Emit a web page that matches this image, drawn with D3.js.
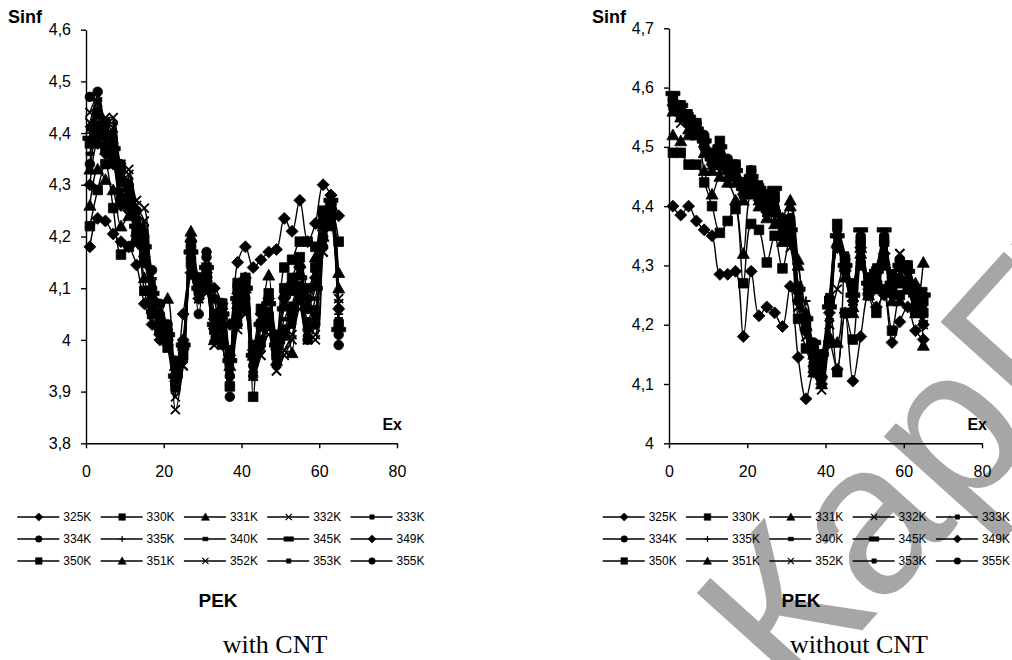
<!DOCTYPE html>
<html>
<head>
<meta charset="utf-8">
<script src="https://cdn.jsdelivr.net/npm/d3@7"></script>
<style>
  body { margin: 0; background: #fff; }
  svg { display: block; }
</style>
</head>
<body>
<svg id="chart" width="1012" height="660"></svg>
<script>
// Excitation step (Ex) shared by every series
const exValues = [1, 3, 5, 7, 9, 11, 13, 15, 17, 19, 21, 23, 25, 27, 29, 31, 33,
                  35, 37, 39, 41, 43, 45, 47, 49, 51, 53, 55, 57, 59, 61, 63, 65];

// Temperature series names and their marker kinds
const seriesNames = ["325K", "330K", "331K", "332K", "333K",
                     "334K", "335K", "340K", "345K", "349K",
                     "350K", "351K", "352K", "353K", "355K"];
const markerKinds = ["diamond", "square", "triangle", "cross", "smallSquare",
                     "circle", "plus", "dash", "wideDash", "diamond",
                     "square", "triangle", "cross", "smallSquare", "circle"];

// Sinf, PEK with CNT
const cnt325 = [4.18,4.235,4.23,4.205,4.19,4.18,4.145,4.07,4.03,4.0,3.99,3.93,4.05,4.13,4.08,4.1,4.1,4.07,4.03,4.15,4.18,4.14,4.155,4.17,4.175,4.235,4.21,4.27,4.19,4.225,4.30,4.28,4.24];
const cnt330 = [4.22,4.29,4.34,4.255,4.165,4.18,4.2,4.095,4.05,4.04,3.985,3.91,3.97,4.15,4.1,4.12,4.02,4.07,3.91,4.11,4.11,3.89,4.03,4.04,3.97,4.14,4.155,4.19,4.19,4.18,4.25,4.25,4.19];
const cnt331 = [4.26,4.33,4.31,4.29,4.22,4.24,4.2,4.12,4.06,4.05,4.08,3.95,4.0,4.21,4.12,4.1,4.0,4.05,3.95,4.07,4.1,3.97,4.04,4.125,3.96,4.09,3.975,4.15,4.06,4.16,4.2,4.26,4.13];
const cnt332 = [4.42,4.46,4.43,4.43,4.34,4.33,4.27,4.255,4.09,4.02,4.0,3.865,3.95,4.12,4.08,4.09,3.99,4.0,3.92,4.02,4.05,3.93,3.97,4.01,3.94,3.97,4.0,4.06,4.0,4.0,4.17,4.24,4.08];
const cnt333 = [4.38,4.44,4.42,4.4,4.31,4.3,4.24,4.2,4.11,4.04,4.02,3.92,3.98,4.15,4.1,4.13,4.01,4.03,3.94,4.05,4.07,3.95,4.0,4.04,3.96,4.02,4.04,4.1,4.03,4.06,4.19,4.25,4.06];
const cnt334 = [4.47,4.48,4.4,4.38,4.34,4.28,4.25,4.2,4.135,4.05,4.03,3.93,3.98,4.18,4.05,4.17,4.08,4.0,3.89,4.05,4.08,3.95,4.0,4.05,3.97,4.02,4.06,4.1,4.02,4.05,4.2,4.24,3.99];
const cnt335 = [4.4,4.45,4.41,4.42,4.32,4.31,4.25,4.22,4.12,4.03,4.01,3.9,3.96,4.14,4.09,4.11,4.0,4.02,3.93,4.04,4.06,3.94,3.98,4.03,3.95,4.0,4.03,4.08,4.01,4.04,4.18,4.23,4.05];
const cnt340 = [4.36,4.43,4.4,4.39,4.3,4.29,4.23,4.19,4.1,4.02,4.0,3.91,3.97,4.16,4.11,4.12,4.02,4.04,3.95,4.06,4.09,3.96,4.02,4.06,3.98,4.04,4.07,4.11,4.04,4.08,4.2,4.26,4.04];
const cnt345 = [4.39,4.42,4.39,4.37,4.29,4.27,4.22,4.18,4.09,4.03,4.01,3.93,3.99,4.17,4.1,4.14,4.03,4.05,3.96,4.08,4.1,3.97,4.03,4.07,3.99,4.06,4.09,4.12,4.06,4.1,4.22,4.27,4.02];
const cnt349 = [4.3,4.38,4.36,4.34,4.26,4.25,4.19,4.15,4.08,4.01,4.0,3.92,4.0,4.19,4.11,4.13,4.04,4.06,3.97,4.09,4.12,3.98,4.05,4.08,4.0,4.08,4.11,4.14,4.08,4.12,4.23,4.28,4.06];
const cnt350 = [4.38,4.41,4.37,4.35,4.27,4.26,4.21,4.16,4.07,4.02,4.01,3.92,3.99,4.18,4.12,4.14,4.05,4.07,3.98,4.1,4.12,3.99,4.06,4.09,4.01,4.1,4.12,4.16,4.1,4.14,4.24,4.26,4.03];
const cnt351 = [4.33,4.4,4.38,4.36,4.28,4.27,4.21,4.17,4.08,4.02,4.02,3.94,3.99,4.2,4.11,4.13,4.03,4.06,3.97,4.08,4.11,3.98,4.04,4.08,3.99,4.07,4.1,4.13,4.07,4.11,4.22,4.27,4.1];
const cnt352 = [4.44,4.47,4.42,4.41,4.33,4.32,4.26,4.23,4.11,4.03,4.0,3.89,3.95,4.13,4.08,4.1,3.99,4.01,3.92,4.03,4.05,3.93,3.97,4.02,3.94,3.98,4.01,4.07,4.0,4.01,4.17,4.24,4.07];
const cnt353 = [4.41,4.46,4.41,4.4,4.31,4.3,4.24,4.21,4.1,4.03,4.01,3.91,3.96,4.14,4.09,4.11,4.0,4.02,3.93,4.04,4.06,3.94,3.99,4.03,3.95,4.01,4.03,4.09,4.02,4.05,4.19,4.25,4.03];
const cnt355 = [4.34,4.44,4.42,4.36,4.33,4.3,4.22,4.18,4.1,4.07,4.02,3.96,3.99,4.16,4.09,4.16,4.05,3.99,3.93,4.03,4.06,3.93,3.99,4.03,3.98,4.01,4.05,4.08,4.0,4.03,4.18,4.22,4.01];

// Sinf, PEK without CNT
const bare325 = [4.40,4.385,4.40,4.375,4.36,4.35,4.285,4.285,4.29,4.18,4.29,4.215,4.23,4.22,4.197,4.265,4.145,4.075,4.12,4.10,4.17,4.125,4.22,4.105,4.18,4.25,4.23,4.25,4.17,4.205,4.23,4.19,4.175];
const bare330 = [4.49,4.49,4.47,4.47,4.44,4.40,4.355,4.375,4.395,4.27,4.37,4.36,4.305,4.35,4.295,4.35,4.21,4.16,4.13,4.15,4.24,4.12,4.22,4.175,4.30,4.25,4.22,4.26,4.19,4.25,4.26,4.22,4.22];
const bare331 = [4.52,4.51,4.52,4.52,4.46,4.42,4.45,4.44,4.41,4.32,4.42,4.41,4.40,4.37,4.38,4.41,4.31,4.20,4.15,4.12,4.17,4.17,4.30,4.22,4.33,4.26,4.28,4.30,4.27,4.24,4.28,4.27,4.165];
const bare332 = [4.57,4.55,4.53,4.53,4.49,4.47,4.46,4.47,4.45,4.41,4.44,4.40,4.39,4.38,4.35,4.33,4.23,4.18,4.12,4.1,4.2,4.26,4.3,4.24,4.32,4.26,4.27,4.3,4.26,4.32,4.27,4.24,4.2];
const bare333 = [4.58,4.56,4.55,4.53,4.5,4.48,4.49,4.46,4.46,4.43,4.45,4.42,4.41,4.4,4.36,4.36,4.25,4.2,4.15,4.13,4.22,4.34,4.3,4.25,4.33,4.28,4.29,4.33,4.27,4.3,4.29,4.25,4.24];
const bare334 = [4.58,4.57,4.55,4.54,4.51,4.49,4.5,4.47,4.47,4.44,4.46,4.43,4.42,4.41,4.37,4.38,4.26,4.21,4.17,4.15,4.24,4.35,4.31,4.27,4.34,4.27,4.28,4.34,4.28,4.31,4.3,4.26,4.25];
const bare335 = [4.57,4.56,4.54,4.52,4.5,4.48,4.48,4.46,4.45,4.42,4.44,4.41,4.4,4.39,4.36,4.35,4.24,4.24,4.14,4.12,4.21,4.33,4.29,4.24,4.32,4.26,4.27,4.32,4.26,4.29,4.28,4.24,4.22];
const bare340 = [4.59,4.57,4.56,4.54,4.52,4.49,4.51,4.48,4.47,4.44,4.46,4.44,4.42,4.42,4.38,4.37,4.27,4.2,4.16,4.14,4.25,4.36,4.32,4.26,4.35,4.28,4.3,4.35,4.29,4.31,4.3,4.26,4.26];
const bare345 = [4.59,4.57,4.55,4.53,4.51,4.48,4.5,4.47,4.46,4.43,4.45,4.43,4.41,4.43,4.37,4.36,4.26,4.21,4.17,4.15,4.23,4.35,4.3,4.25,4.36,4.27,4.29,4.36,4.27,4.3,4.29,4.25,4.25];
const bare349 = [4.57,4.56,4.54,4.53,4.5,4.47,4.48,4.46,4.45,4.42,4.44,4.41,4.39,4.39,4.35,4.34,4.24,4.19,4.13,4.11,4.22,4.33,4.29,4.24,4.33,4.26,4.27,4.32,4.25,4.28,4.27,4.23,4.2];
const bare350 = [4.58,4.57,4.55,4.54,4.51,4.48,4.51,4.47,4.47,4.44,4.46,4.43,4.41,4.42,4.37,4.37,4.26,4.2,4.16,4.14,4.24,4.37,4.31,4.26,4.34,4.27,4.29,4.34,4.27,4.3,4.3,4.26,4.24];
const bare351 = [4.56,4.55,4.53,4.52,4.49,4.46,4.47,4.45,4.44,4.41,4.43,4.4,4.38,4.4,4.34,4.4,4.3,4.22,4.12,4.1,4.18,4.34,4.28,4.23,4.32,4.25,4.26,4.31,4.24,4.27,4.26,4.22,4.305];
const bare352 = [4.56,4.54,4.53,4.52,4.49,4.47,4.47,4.45,4.45,4.42,4.43,4.41,4.39,4.38,4.35,4.34,4.23,4.18,4.12,4.09,4.2,4.33,4.28,4.24,4.31,4.25,4.26,4.31,4.26,4.32,4.27,4.23,4.21];
const bare353 = [4.58,4.56,4.55,4.53,4.51,4.48,4.49,4.47,4.46,4.43,4.45,4.42,4.41,4.41,4.36,4.36,4.25,4.2,4.15,4.13,4.23,4.35,4.3,4.25,4.34,4.27,4.28,4.34,4.28,4.3,4.29,4.25,4.23];
const bare355 = [4.58,4.57,4.55,4.54,4.52,4.49,4.5,4.48,4.47,4.44,4.46,4.43,4.42,4.41,4.38,4.37,4.26,4.21,4.16,4.14,4.24,4.36,4.31,4.26,4.35,4.28,4.29,4.35,4.28,4.31,4.3,4.26,4.25];

// Axis tick values
const exTicks = [0, 20, 40, 60, 80];
const cntSinfTicks = [3.8, 3.9, 4.0, 4.1, 4.2, 4.3, 4.4, 4.5, 4.6];
const bareSinfTicks = [4.0, 4.1, 4.2, 4.3, 4.4, 4.5, 4.6, 4.7];

const withCntSeries = [cnt325, cnt330, cnt331, cnt332, cnt333, cnt334, cnt335, cnt340,
                       cnt345, cnt349, cnt350, cnt351, cnt352, cnt353, cnt355];
const withoutCntSeries = [bare325, bare330, bare331, bare332, bare333, bare334, bare335, bare340,
                          bare345, bare349, bare350, bare351, bare352, bare353, bare355];

const svg = d3.select("#chart");
const SANS = "'Liberation Sans', Arial, sans-serif";
const SERIF = "'Liberation Serif', 'Times New Roman', serif";

// Faint watermark lettering behind the right panel
svg.append("text")
  .attr("transform", "translate(795,705) rotate(-48)")
  .attr("font-family", SANS)
  .attr("font-size", 215)
  .attr("fill", "#a6a6a6")
  .text("КарГУ");

// Marker outline for each kind, centred at 0,0
function markerPath(kind, big) {
  const k = big ? 1 : 0.68;
  switch (kind) {
    case "diamond": { const s = 6 * k; return `M0,${-s}L${s},0L0,${s}L${-s},0Z`; }
    case "square": { const s = 4.8 * k; return `M${-s},${-s}H${s}V${s}H${-s}Z`; }
    case "triangle": { const s = 6 * k; return `M0,${-s}L${s},${s * 0.8}L${-s},${s * 0.8}Z`; }
    case "circle": { const s = 4.8 * k; return `M${s},0A${s},${s} 0 1,1 ${-s},0A${s},${s} 0 1,1 ${s},0Z`; }
    case "smallSquare": { const s = 3.2 * k; return `M${-s},${-s}H${s}V${s}H${-s}Z`; }
    case "dash": { const w = 3.8 * k, h = 1.8; return `M${-w},${-h}H${w}V${h}H${-w}Z`; }
    case "wideDash": { const w = 7 * k, h = 2.2; return `M${-w},${-h}H${w}V${h}H${-w}Z`; }
    case "cross": { const s = 4.5 * k; return `M${-s},${-s}L${s},${s}M${-s},${s}L${s},${-s}`; }
    case "plus": { const s = 4.5 * k; return `M${-s},0H${s}M0,${-s}V${s}`; }
  }
}
const strokeOnly = kind => kind === "cross" || kind === "plus";

function drawPanel(cfg) {
  const g = svg.append("g");
  const x = d3.scaleLinear().domain([0, 80]).range([cfg.left, cfg.right]);
  const y = d3.scaleLinear().domain(cfg.yDomain).range([cfg.bottom, cfg.top]);
  const fmt = d => (+d.toFixed(1)).toString().replace(".", ",");

  // Series lines (smoothed) and markers
  const line = d3.line()
    .x((d, i) => x(exValues[i]))
    .y(d => y(d))
    .curve(d3.curveCatmullRom.alpha(0.5));

  cfg.series.forEach((vals, si) => {
    const kind = markerKinds[si];
    g.append("path")
      .attr("d", line(vals))
      .attr("fill", "none")
      .attr("stroke", "#000")
      .attr("stroke-width", 1.4);
    g.append("g").selectAll("path")
      .data(vals)
      .join("path")
      .attr("transform", (d, i) => `translate(${x(exValues[i])},${y(d)})`)
      .attr("d", markerPath(kind, true))
      .attr("fill", strokeOnly(kind) ? "none" : "#000")
      .attr("stroke", "#000")
      .attr("stroke-width", strokeOnly(kind) ? 1.8 : 0.8);
  });

  // Axes
  const xAxis = g.append("g")
    .attr("transform", `translate(0,${cfg.bottom})`)
    .call(d3.axisBottom(x).tickValues(exTicks).tickSize(5).tickSizeOuter(0).tickPadding(17));
  const yAxis = g.append("g")
    .attr("transform", `translate(${cfg.left},0)`)
    .call(d3.axisLeft(y).tickValues(cfg.yTicks).tickFormat(fmt).tickSize(5).tickSizeOuter(0).tickPadding(10));
  [xAxis, yAxis].forEach(a => {
    a.selectAll("path, line").attr("stroke", "#000").attr("stroke-width", 1.4);
    a.selectAll("text").attr("font-family", SANS).attr("font-size", 16).attr("fill", "#000");
  });

  // Axis titles
  g.append("text")
    .attr("x", cfg.sinfX).attr("y", 23)
    .attr("font-family", SANS).attr("font-weight", "bold").attr("font-size", 18)
    .text("Sinf");
  g.append("text")
    .attr("x", cfg.right + 5).attr("y", 430)
    .attr("text-anchor", "end")
    .attr("font-family", SANS).attr("font-weight", "bold").attr("font-size", 16)
    .text("Ex");

  // Legend: three rows of five entries
  const legend = g.append("g");
  seriesNames.forEach((name, i) => {
    const col = i % 5, row = Math.floor(i / 5);
    const lx = cfg.legendX + col * 83.3;
    const ly = 517 + row * 22;
    const item = legend.append("g").attr("transform", `translate(${lx},${ly})`);
    item.append("line")
      .attr("x1", 0).attr("x2", 42).attr("y1", 0).attr("y2", 0)
      .attr("stroke", "#000").attr("stroke-width", 1.4);
    const kind = markerKinds[i];
    item.append("path")
      .attr("transform", "translate(21.5,0)")
      .attr("d", markerPath(kind, false))
      .attr("fill", strokeOnly(kind) ? "none" : "#000")
      .attr("stroke", "#000")
      .attr("stroke-width", strokeOnly(kind) ? 1.2 : 0.6);
    item.append("text")
      .attr("x", 46).attr("y", 4.3)
      .attr("font-family", SANS).attr("font-size", 12)
      .text(name);
  });

  // Panel caption
  g.append("text")
    .attr("x", cfg.pekX).attr("y", 607)
    .attr("text-anchor", "middle")
    .attr("font-family", SANS).attr("font-weight", "bold").attr("font-size", 19)
    .text("PEK");
  g.append("text")
    .attr("x", cfg.captionX).attr("y", 653)
    .attr("text-anchor", "middle")
    .attr("font-family", SERIF).attr("font-size", 26)
    .text(cfg.caption);
}

drawPanel({
  series: withCntSeries, yDomain: [3.8, 4.6], yTicks: cntSinfTicks,
  left: 86, right: 397, top: 29.7, bottom: 443.3,
  sinfX: 8, legendX: 17.3, pekX: 218, captionX: 275, caption: "with CNT"
});
drawPanel({
  series: withoutCntSeries, yDomain: [4.0, 4.7], yTicks: bareSinfTicks,
  left: 669, right: 982, top: 28.3, bottom: 443.3,
  sinfX: 592, legendX: 602.7, pekX: 801, captionX: 859, caption: "without CNT"
});
</script>
</body>
</html>
